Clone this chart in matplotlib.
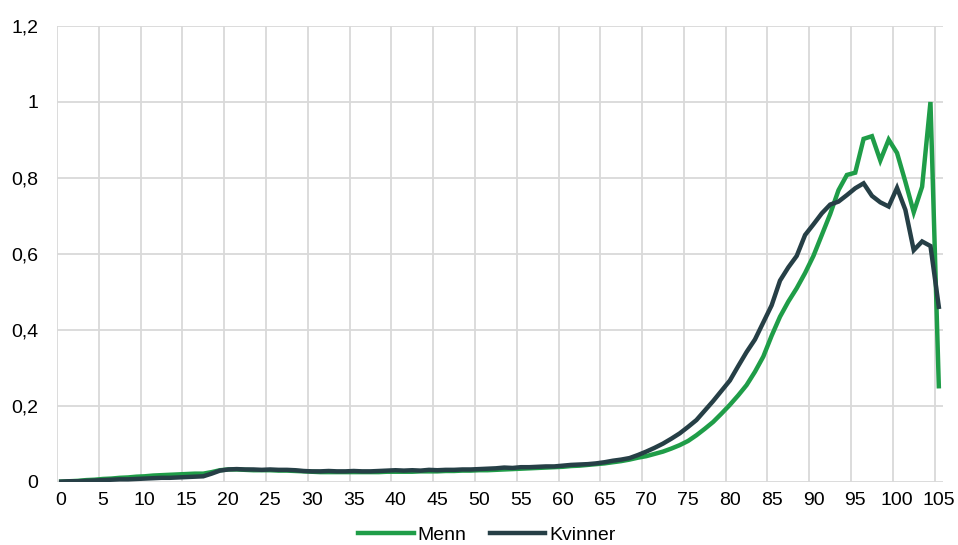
import matplotlib
matplotlib.use("Agg")
import matplotlib.pyplot as plt
import numpy as np

ages = list(range(0, 106))

menn = [
    0.001, 0.002, 0.003, 0.005, 0.006, 0.008, 0.009, 0.011, 0.012, 0.014,
    0.015, 0.017, 0.018, 0.019, 0.020, 0.021, 0.022, 0.022, 0.026, 0.031,
    0.033, 0.033, 0.032, 0.031, 0.031, 0.031, 0.030, 0.030, 0.029, 0.028,
    0.027, 0.026, 0.026, 0.026, 0.026, 0.026, 0.026, 0.026, 0.026, 0.027,
    0.027, 0.027, 0.027, 0.028, 0.028, 0.028, 0.029, 0.029, 0.030, 0.030,
    0.031, 0.031, 0.032, 0.033, 0.034, 0.035, 0.036, 0.037, 0.038, 0.039,
    0.040, 0.042, 0.043, 0.045, 0.047, 0.049, 0.052, 0.055, 0.059, 0.064,
    0.068, 0.074, 0.080, 0.088, 0.097, 0.108, 0.123, 0.140, 0.158, 0.180,
    0.203, 0.228, 0.255, 0.290, 0.330, 0.385, 0.435, 0.475, 0.510, 0.550,
    0.595, 0.650, 0.705, 0.768, 0.808, 0.814, 0.903, 0.910, 0.846, 0.901,
    0.866, 0.790, 0.710, 0.777, 1.000, 0.252,
]

kvinner = [
    0.001, 0.002, 0.002, 0.003, 0.004, 0.005, 0.006, 0.007, 0.007, 0.008,
    0.009, 0.010, 0.011, 0.011, 0.012, 0.013, 0.014, 0.015, 0.022, 0.030,
    0.033, 0.034, 0.033, 0.033, 0.032, 0.033, 0.032, 0.032, 0.031, 0.029,
    0.028, 0.028, 0.029, 0.028, 0.028, 0.029, 0.028, 0.028, 0.029, 0.030,
    0.031, 0.030, 0.031, 0.030, 0.032, 0.031, 0.032, 0.032, 0.033, 0.033,
    0.034, 0.035, 0.036, 0.038, 0.037, 0.039, 0.039, 0.040, 0.041, 0.041,
    0.043, 0.045, 0.046, 0.047, 0.049, 0.052, 0.056, 0.059, 0.063, 0.071,
    0.080, 0.090, 0.101, 0.114, 0.128, 0.145, 0.163, 0.188, 0.213, 0.240,
    0.267, 0.305, 0.342, 0.375, 0.420, 0.465, 0.530, 0.565, 0.595, 0.650,
    0.678, 0.707, 0.730, 0.738, 0.755, 0.773, 0.786, 0.753, 0.736, 0.725,
    0.774, 0.716, 0.610, 0.633, 0.621, 0.461,
]

x_tick_labels = [str(a) for a in range(0, 106, 5)]
y_ticks = [0, 0.2, 0.4, 0.6, 0.8, 1.0, 1.2]
y_tick_labels = ["0", "0,2", "0,4", "0,6", "0,8", "1", "1,2"]

GREEN = "#1f9d48"
DARK = "#263f46"
GRID = "#d9d9d9"
FS = 14

plt.rcParams['font.family'] = ['Liberation Sans', 'DejaVu Sans']

fig = plt.figure(figsize=(9.58, 5.45), dpi=100)
ax = fig.add_axes([57/958, 1 - 482/545, (943 - 57)/958, (482 - 26)/545])

ax.plot(ages, menn, color=GREEN, lw=3.2, label="Menn", solid_joinstyle='miter', zorder=3)
ax.plot(ages, kvinner, color=DARK, lw=3.2, label="Kvinner", solid_joinstyle='miter', zorder=4)

ax.set_xlim(-0.5, 105.5)
ax.set_ylim(0, 1.2)

ax.set_xticks(list(range(0, 106, 5)))
ax.set_xticklabels(x_tick_labels)
ax.set_xticks([v - 0.5 for v in range(0, 106, 5)], minor=True)
ax.set_yticks(y_ticks)
ax.set_yticklabels(y_tick_labels)

ax.grid(False)
ax.grid(which='minor', axis='x', color=GRID, lw=1.3)
ax.grid(which='major', axis='y', color=GRID, lw=1.3)
for s in ax.spines.values():
    s.set_visible(False)
ax.tick_params(which='both', length=0)
ax.tick_params(axis='x', which='major', pad=7, labelsize=FS, colors='black')
ax.tick_params(axis='y', which='major', pad=13.5, labelsize=FS, colors='black')
ax.set_axisbelow(True)

fig.legend(loc='center', bbox_to_anchor=(487/958, 1 - 535/545), ncol=2,
           frameon=False, fontsize=FS, handlelength=2.85, handletextpad=0.2,
           columnspacing=1.2, borderaxespad=0, borderpad=0)

fig.savefig("out.png", dpi=100, facecolor='white')
